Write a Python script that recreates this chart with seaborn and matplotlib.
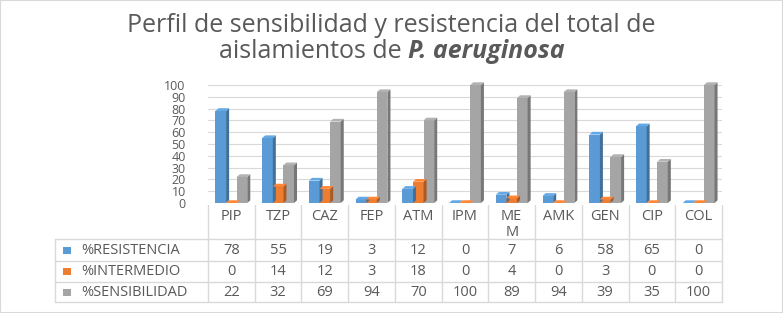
import numpy as np
import pandas as pd
import seaborn as sns
import matplotlib
matplotlib.use("Agg")
import matplotlib.pyplot as plt
from matplotlib.patches import Polygon, Rectangle
from matplotlib import colors as mcolors

# ---------------- data ----------------
categories = ["PIP", "TZP", "CAZ", "FEP", "ATM", "IPM", "MEM", "AMK", "GEN", "CIP", "COL"]
header_labels = ["PIP", "TZP", "CAZ", "FEP", "ATM", "IPM", "ME\nM", "AMK", "GEN", "CIP", "COL"]
series = ["%RESISTENCIA", "%INTERMEDIO", "%SENSIBILIDAD"]
resistencia = [78, 55, 19, 3, 12, 0, 7, 6, 58, 65, 0]
intermedio = [0, 14, 12, 3, 18, 0, 4, 0, 3, 0, 0]
sensibilidad = [22, 32, 69, 94, 70, 100, 89, 94, 39, 35, 100]
palette = ["#5B9BD5", "#ED7D31", "#A5A5A5"]
yticks = list(range(0, 101, 10))

values = [resistencia, intermedio, sensibilidad]
df = pd.DataFrame({
    "Antibiotico": categories * 3,
    "Serie": [s for s in series for _ in categories],
    "Porcentaje": resistencia + intermedio + sensibilidad,
})

# ---------------- style ----------------
sns.set_theme(style="white")
plt.rcParams['font.family'] = ['Open Sans', 'DejaVu Sans']
TXT = "#595959"
GRID = "#D9D9D9"

W, H = 783, 313
fig = plt.figure(figsize=(W / 100, H / 100), dpi=100)


def fx(px):
    return px / W


def fy(py):
    return 1 - py / H


X0, X1, Y0, Y1 = 208, 722, 203, 85
ax = fig.add_axes([fx(X0), fy(Y0), fx(X1) - fx(X0), fy(Y1) - fy(Y0)])
sns.barplot(data=df, x="Antibiotico", y="Porcentaje", hue="Serie",
            order=categories, hue_order=series, palette=palette,
            width=0.68, saturation=1, legend=False, ax=ax, edgecolor="none")
ax.set_xlim(-0.5, len(categories) - 0.5)
ax.set_ylim(0, 100)
ax.set_yticks(yticks)
ax.set_yticklabels([str(t) for t in yticks], fontsize=9, color=TXT)
ax.tick_params(axis='y', length=0, pad=16)
ax.set_xticks([])
ax.set_xlabel("")
ax.set_ylabel("")
for s in ax.spines.values():
    s.set_visible(False)
ax.grid(axis='y', color=GRID, lw=0.8)
ax.set_axisbelow(True)

# pseudo 3D faces derived from the bar patches
dx, dy = 0.065, 2.3
for p in list(ax.patches):
    p.set_clip_on(False)
    x, w, h = p.get_x(), p.get_width(), p.get_height()
    fc = np.array(mcolors.to_rgb(p.get_facecolor()))
    side = tuple(fc * 0.72)
    top = tuple(np.clip(fc * 1.08, 0, 1))
    ax.add_patch(Polygon([(x + w, 0), (x + w + dx, dy), (x + w + dx, h + dy), (x + w, h)],
                         closed=True, fc=side, ec="none", zorder=p.get_zorder(), clip_on=False))
    ax.add_patch(Polygon([(x, h), (x + dx, h + dy), (x + w + dx, h + dy), (x + w, h)],
                         closed=True, fc=top, ec="none", zorder=p.get_zorder(), clip_on=False))

# ---------------- data table ----------------
TL, TB, TT = 55, 302, 203
tax = fig.add_axes([fx(TL), fy(TB), fx(X1) - fx(TL), fy(TT) - fy(TB)])
scale = len(categories) / (X1 - X0)


def dxp(px):
    return -0.5 + (px - X0) * scale


tax.set_xlim(dxp(TL), len(categories) - 0.5)
tax.set_ylim(TB, TT)
tax.axis("off")

row_lines = [239, 261, 282, 302]
for i in range(len(categories) + 1):
    tax.plot([i - 0.5, i - 0.5], [205, 302], color=GRID, lw=1, clip_on=False)
tax.plot([dxp(TL), dxp(TL)], [239, 302], color=GRID, lw=1, clip_on=False)
for yl in row_lines:
    tax.plot([dxp(TL), len(categories) - 0.5], [yl, yl], color=GRID, lw=1, clip_on=False)

for i, lab in enumerate(header_labels):
    tax.text(i, 209, lab, ha="center", va="top", fontsize=10.5, color=TXT, linespacing=1.1)

row_centers = [250, 271.5, 292]
for r, (name, col, vals) in enumerate(zip(series, palette, values)):
    yc = row_centers[r]
    tax.add_patch(Rectangle((dxp(63), yc - 3.5), 8 * scale, 7, fc=col, ec="none", clip_on=False))
    tax.text(dxp(81), yc, name, ha="left", va="center", fontsize=10.5, color=TXT)
    for i, v in enumerate(vals):
        tax.text(i, yc, str(v), ha="center", va="center", fontsize=10.5, color=TXT)

# ---------------- title ----------------
TFS = 18
fig.text(0.5, fy(25), "Perfil de sensibilidad y resistencia del total de",
         ha="center", va="center", fontsize=TFS, color=TXT)
fig.canvas.draw()
r = fig.canvas.get_renderer()
t1 = fig.text(0, fy(51), "aislamientos de ", ha="left", va="center", fontsize=TFS, color=TXT)
t2 = fig.text(0, fy(51), "P. aeruginosa", ha="left", va="center", fontsize=TFS, color=TXT,
              fontweight="bold", fontstyle="italic")
w1 = t1.get_window_extent(r).width
w2 = t2.get_window_extent(r).width
start = (W - (w1 + w2)) / 2
t1.set_x(fx(start))
t2.set_x(fx(start + w1))

fig.patches.append(Rectangle((0, 0), 1, 1, transform=fig.transFigure, fill=False,
                             ec=GRID, lw=1.5))

fig.savefig("out.png", dpi=100)
